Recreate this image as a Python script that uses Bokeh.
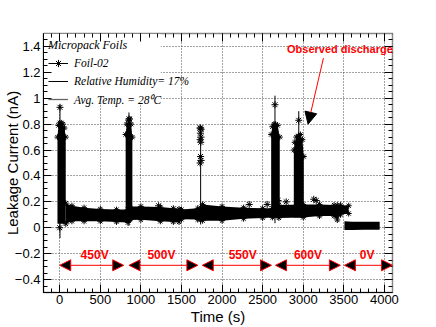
from bokeh.plotting import figure
from bokeh.models import (Range1d, LinearAxis, SingleIntervalTicker, CustomJSTickFormatter,
                          Legend, LegendItem, Label, Arrow, NormalHead)
from bokeh.core.properties import value
from bokeh.embed import file_html
from bokeh.resources import INLINE

# ---------------- data ----------------
# dense band of the leakage current while HV is on (time s, lower / upper envelope nA)
band_t  = [75, 150, 300, 500, 700, 840, 860, 1000, 1240, 1400, 1470, 1500, 1700, 1735, 1760,
           2000, 2265, 2500, 2620, 2700, 3000, 3200, 3380, 3420, 3460, 3560]
band_hi = [0.19, 0.17, 0.155, 0.145, 0.14, 0.14, 0.165, 0.165, 0.16, 0.15, 0.145, 0.14, 0.15,
           0.155, 0.18, 0.165, 0.155, 0.15, 0.15, 0.175, 0.18, 0.18, 0.175, 0.175, 0.175, 0.17]
band_lo = [0.03, 0.05, 0.05, 0.05, 0.045, 0.04, 0.06, 0.062, 0.05, 0.045, 0.045, 0.065, 0.063,
           0.065, 0.055, 0.055, 0.07, 0.076, 0.08, 0.076, 0.08, 0.09, 0.09, 0.06, 0.1, 0.11]

# band after switching HV off (0 V)
off_t  = [3508, 3600, 3750, 3942]
off_hi = [0.05, 0.046, 0.046, 0.046]
off_lo = [-0.017, -0.017, -0.016, -0.016]

# dense spikes at each voltage step
sp1_t  = [-28, -15, 0, 20, 40, 58, 74]
sp1_hi = [0.70, 0.79, 0.81, 0.81, 0.80, 0.77, 0.70]
sp1_lo = [0.03, 0.03, 0.03, 0.03, 0.03, 0.03, 0.03]

sp2_t  = [812, 825, 845, 865, 880, 895]
sp2_hi = [0.72, 0.80, 0.83, 0.84, 0.80, 0.70]
sp2_lo = [0.04, 0.04, 0.04, 0.04, 0.05, 0.05]

sp4_t  = [2605, 2620, 2640, 2660, 2685, 2711]
sp4_hi = [0.72, 0.78, 0.80, 0.80, 0.79, 0.70]
sp4_lo = [0.08, 0.08, 0.08, 0.08, 0.08, 0.08]

sp5_t  = [2884, 2895, 2915, 2940, 2965, 2990, 3007]
sp5_hi = [0.60, 0.66, 0.70, 0.71, 0.72, 0.68, 0.55]
sp5_lo = [0.08, 0.08, 0.08, 0.08, 0.08, 0.08, 0.08]

# sparse points of the 550 V spike
sp3_t = [1728, 1742, 1733, 1740, 1730, 1738, 1735, 1742, 1729]
sp3_i = [0.77, 0.76, 0.73, 0.70, 0.68, 0.66, 0.55, 0.52, 0.50]

# thin spike lines and their peak points
peak_t    = [3, 853, 1736, 2652, 2945]
peak_lo   = [-0.08, 0.015, 0.025, 0.035, 0.12]
peak_hi   = [0.95, 0.89, 0.78, 1.02, 0.90]
peak_star = [0.93, 0.84, 0.77, 0.95, 0.83]

# isolated points
pt_t = [0, 1218, 2335, 2556, 2690, 2790, 3130, 3160]
pt_i = [0.0, 0.17, 0.18, 0.18, 0.21, 0.20, 0.22, 0.21]

# voltage steps
v_labels  = ["450V", "500V", "550V", "600V", "0V"]
v_start   = [0, 853, 1756, 2658, 3508]
v_end     = [788, 1702, 2609, 3458, 4100]
v_label_t = [430, 1253, 2254, 3058, 3787]

x_ticks_step = 500
y_ticks_step = 0.2

# ---------------- figure ----------------
p = figure(width=436, height=327, x_range=Range1d(-200, 4100), y_range=Range1d(-0.5, 1.5),
           output_backend="svg", toolbar_location=None,
           min_border_left=43, min_border_right=44, min_border_top=33, min_border_bottom=33)
p.background_fill_color = "white"
p.border_fill_color = "white"
p.outline_line_color = "#888888"
p.outline_line_width = 1.5

xt = SingleIntervalTicker(interval=x_ticks_step, num_minor_ticks=5)
yt = SingleIntervalTicker(interval=y_ticks_step, num_minor_ticks=4)

fmt_y = CustomJSTickFormatter(code="""
const v = Math.round(tick*10)/10;
return (v < 0 ? '\\u2212' : '') + Math.abs(v).toString();
""")
fmt_none = CustomJSTickFormatter(code="return '';")

def style_axis(ax, show_labels):
    ax.major_tick_in = 8
    ax.major_tick_out = 0
    ax.minor_tick_in = 4
    ax.minor_tick_out = 0
    ax.major_tick_line_color = "black"
    ax.minor_tick_line_color = "black"
    if show_labels:
        ax.major_label_text_font = "Liberation Sans"
        ax.major_label_text_font_size = "13px"
        ax.major_label_text_color = "black"
        ax.axis_label_text_font = "Liberation Sans"
        ax.axis_label_text_font_style = "normal"
        ax.axis_label_text_font_size = "15px"
        ax.axis_label_text_color = "black"
    else:
        ax.formatter = fmt_none
        ax.major_label_text_font_size = "1px"
        ax.major_label_standoff = 0

p.xaxis.ticker = xt
p.yaxis.ticker = yt
p.yaxis.formatter = fmt_y
style_axis(p.xaxis[0], True)
style_axis(p.yaxis[0], True)
p.xaxis.major_label_standoff = 2
p.yaxis.major_label_standoff = 3
p.xaxis.axis_label = "Time (s)"
p.yaxis.axis_label = "Leakage Current (nA)"
p.xaxis.axis_label_standoff = 1
p.yaxis.axis_label_standoff = -9
p.xaxis.axis_line_color = "black"
p.yaxis.axis_line_color = "black"

top_ax = LinearAxis(ticker=xt)
style_axis(top_ax, False)
top_ax.axis_line_color = "#888888"
p.add_layout(top_ax, "above")
right_ax = LinearAxis(ticker=yt)
style_axis(right_ax, False)
right_ax.axis_line_color = "#888888"
p.add_layout(right_ax, "right")

for g in (p.xgrid[0], p.ygrid[0]):
    g.grid_line_color = "#333333"
    g.grid_line_dash = "1 2"
    g.grid_line_width = 1
    g.grid_line_alpha = 0.9

# legend background (white box hiding the grid)
p.quad(left=-200, right=1245, bottom=0.955, top=1.5, fill_color="white", line_color=None)

# data
p.varea(x=band_t, y1=band_lo, y2=band_hi, fill_color="black")
p.varea(x=off_t, y1=off_lo, y2=off_hi, fill_color="black")
for st, slo, shi in ((sp1_t, sp1_lo, sp1_hi), (sp2_t, sp2_lo, sp2_hi),
                     (sp4_t, sp4_lo, sp4_hi), (sp5_t, sp5_lo, sp5_hi)):
    p.varea(x=st, y1=slo, y2=shi, fill_color="black")
    p.scatter(st, shi, marker="asterisk", size=6, line_color="black")

p.scatter(band_t, band_hi, marker="asterisk", size=6, line_color="black")
p.scatter(band_t, band_lo, marker="asterisk", size=6, line_color="black")

r_seg = p.segment(x0=peak_t, y0=peak_lo, x1=peak_t, y1=peak_hi, line_color="black", line_width=1)
r_star = p.scatter(peak_t, peak_star, marker="asterisk", size=7, line_color="black")
p.scatter(sp3_t, sp3_i, marker="asterisk", size=7, line_color="black")
p.scatter(pt_t, pt_i, marker="asterisk", size=7, line_color="black")

nan = float("nan")
r_hum = p.line(x=[nan], y=[nan], line_color="black", line_width=1)
r_tmp = p.line(x=[nan], y=[nan], line_color="#666666", line_width=1.3)

# voltage arrows
for s, e in zip(v_start, v_end):
    p.add_layout(Arrow(start=NormalHead(size=11, fill_color="black", line_color="red", line_width=1),
                       end=NormalHead(size=11, fill_color="black", line_color="red", line_width=1),
                       x_start=s, y_start=-0.29, x_end=e, y_end=-0.29,
                       line_color="red", line_width=1))
p.text(x=v_label_t, y=[-0.21] * len(v_label_t), text=v_labels, text_color="red",
       text_font=value("Liberation Sans"), text_font_style="bold", text_font_size="12px",
       text_align="center", text_baseline="middle")

# observed discharge annotation
p.add_layout(Label(x=3452, y=1.381, text="Observed discharge", text_color="red",
                   text_font="Liberation Sans", text_font_style="bold", text_font_size="11px",
                   text_align="center", text_baseline="middle"))
p.add_layout(Arrow(end=NormalHead(size=12, fill_color="black", line_color="black"),
                   x_start=3249, y_start=1.31, x_end=3060, y_end=0.80,
                   line_color="red", line_width=1))

legend = Legend(items=[LegendItem(label="Foil-02", renderers=[r_seg, r_star]),
                       LegendItem(label="Relative Humidity= 17%", renderers=[r_hum]),
                       LegendItem(label="Avg. Temp. = 28\u2070C", renderers=[r_tmp])],
                location="top_left", title="Micropack Foils",
                title_text_font="Liberation Serif", title_text_font_style="italic",
                title_text_font_size="12px", title_text_color="black",
                label_text_font="Liberation Serif", label_text_font_style="italic",
                label_text_font_size="11.5px", label_text_color="black",
                background_fill_alpha=0, border_line_alpha=0, margin=0, padding=5,
                spacing=0, glyph_width=20, glyph_height=18, label_height=18,
                label_standoff=6, title_standoff=1)
p.add_layout(legend)

open("out.html", "w").write(file_html(p, INLINE))
